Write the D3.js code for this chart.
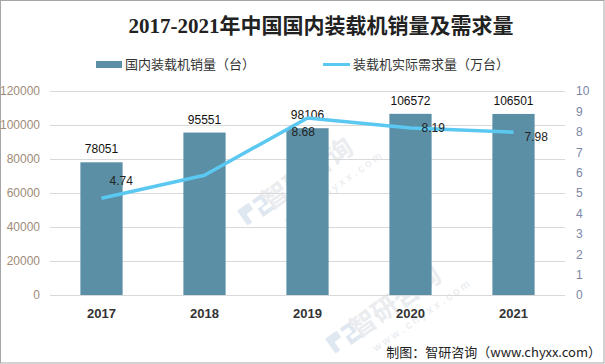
<!DOCTYPE html>
<html><head><meta charset="utf-8">
<script src="https://cdn.jsdelivr.net/npm/d3@7"></script>
<style>body{margin:0;background:#fff}svg{display:block}</style>
</head><body>
<svg id="c" width="605" height="364"></svg>
<script>
const years = ["2017","2018","2019","2020","2021"];
const sales = [78051, 95551, 98106, 106572, 106501];
const demand = [4.74, 5.87, 8.68, 8.19, 7.98];
const demandLabels = ["4.74", "", "8.68", "8.19", "7.98"];
const leftTicks = [0,20000,40000,60000,80000,100000,120000];
const rightTicks = [0,1,2,3,4,5,6,7,8,9,10];
const title = "2017-2021年中国国内装载机销量及需求量";
const legendNames = ["国内装载机销量（台）","装载机实际需求量（万台）"];
const source = "制图：智研咨询（www.chyxx.com）";
const watermarkText = "智研咨询";
const watermarkUrl = "w w w . c h y x x . c o m";

const svg = d3.select("#c");
const W=605,H=364;
svg.append("rect").attr("x",0.5).attr("y",0.5).attr("width",W-1.5).attr("height",H-1.5)
  .attr("fill","#fff").attr("stroke","#a6a6a6");

// faint watermarks (behind)
const wmPos = [[310,172],[398,300]];
const wm = svg.append("g").attr("pointer-events","none");
wmPos.forEach(p=>{
  const g = wm.append("g").attr("transform",`translate(${p[0]},${p[1]}) rotate(-35)`);
  g.append("path").attr("d","M-82,-10 h14 v8 h-8 v10 h-6 z M-64,-10 h12 v12 h-8 v4 h10 v4 h-14 v-10 h8 v-6 h-8 z")
    .attr("fill","#dfe7f1");
  g.append("text").attr("x",-55).attr("y",9).attr("font-family","'Noto Sans CJK SC',sans-serif")
    .attr("font-weight","bold").attr("font-size",26).attr("fill","#eaecef").text(watermarkText);
  g.append("text").attr("x",-48).attr("y",30).attr("font-family","'Liberation Sans',sans-serif")
    .attr("font-size",11).attr("fill","#e6e9ed").text(watermarkUrl);
});

const L=50,R=565,T=91,B=295;
const x = d3.scaleBand().domain(years).range([L,R]).paddingInner(0.59).paddingOuter(0.295);
const yL = d3.scaleLinear().domain([0,120000]).range([B,T]);
const yR = d3.scaleLinear().domain([0,10]).range([B,T]);

// title
svg.append("text").attr("x",321).attr("y",33).attr("text-anchor","middle")
  .attr("font-family","'Liberation Serif','Noto Sans CJK SC',serif").attr("font-weight","bold")
  .attr("font-size",21).attr("fill","#222").text(title);

// legend
const lg = svg.append("g").attr("font-family","'Noto Sans CJK SC',sans-serif").attr("font-size",13).attr("fill","#333");
lg.append("rect").attr("x",96).attr("y",61).attr("width",26).attr("height",7).attr("fill","#5b8fa6");
lg.append("text").attr("x",125).attr("y",69).text(legendNames[0]);
lg.append("line").attr("x1",323).attr("x2",350).attr("y1",64.5).attr("y2",64.5).attr("stroke","#5bc8f2").attr("stroke-width",3);
lg.append("text").attr("x",353).attr("y",69).text(legendNames[1]);

// grid
svg.append("g").selectAll("line").data(leftTicks).join("line")
  .attr("x1",L).attr("x2",R).attr("y1",d=>Math.round(yL(d))+0.5).attr("y2",d=>Math.round(yL(d))+0.5)
  .attr("stroke","#d9d9d9");

// left axis
const ax1 = svg.append("g").attr("transform",`translate(${L},0)`)
  .call(d3.axisLeft(yL).tickValues(leftTicks).tickSize(0).tickPadding(10).tickFormat(d3.format("d")));
ax1.select(".domain").remove();
ax1.selectAll("text").attr("font-family","'Liberation Sans',Arial,sans-serif").attr("font-size",12).attr("fill","#a08b78");

// right axis
const ax2 = svg.append("g").attr("transform",`translate(${R},0)`)
  .call(d3.axisRight(yR).tickValues(rightTicks).tickSize(0).tickPadding(11).tickFormat(d3.format("d")));
ax2.select(".domain").remove();
ax2.selectAll("text").attr("font-family","'Liberation Sans',Arial,sans-serif").attr("font-size",12).attr("fill","#7a86a6");

// x axis
const ax3 = svg.append("g").attr("transform",`translate(0,${B})`)
  .call(d3.axisBottom(x).tickSize(0).tickPadding(14));
ax3.select(".domain").remove();
ax3.selectAll("text").attr("font-family","'Liberation Sans',Arial,sans-serif").attr("font-size",13).attr("font-weight","bold").attr("fill","#333");

// bars
svg.append("g").selectAll("rect").data(sales).join("rect")
  .attr("x",(d,i)=>x(years[i])).attr("width",x.bandwidth())
  .attr("y",d=>yL(d)).attr("height",d=>B-yL(d)).attr("fill","#5b8fa6");
svg.append("g").selectAll("text").data(sales).join("text")
  .attr("x",(d,i)=>x(years[i])+x.bandwidth()/2).attr("y",d=>yL(d)-9)
  .attr("text-anchor","middle").attr("font-family","'Liberation Sans',Arial,sans-serif")
  .attr("font-size",12).attr("fill","#111").text(d=>d);

// line
const cx = i=>x(years[i])+x.bandwidth()/2;
svg.append("path").datum(demand)
  .attr("d",d3.line().x((d,i)=>cx(i)).y(d=>yR(d)))
  .attr("fill","none").attr("stroke","#5bc8f2").attr("stroke-width",3.5).attr("stroke-linejoin","round");

const lblOff = [[8,-17],[0,0],[-16,14],[11,0],[11,5]];
svg.append("g").selectAll("text").data(demand).join("text")
  .attr("x",(d,i)=>cx(i)+lblOff[i][0]).attr("y",(d,i)=>yR(d)+lblOff[i][1]+4)
  .attr("font-family","'Liberation Sans',Arial,sans-serif").attr("font-size",12).attr("fill","#222")
  .text((d,i)=>demandLabels[i]);

// source
svg.append("text").attr("x",601).attr("y",357).attr("text-anchor","end")
  .attr("font-family","'Noto Sans CJK SC',sans-serif").attr("font-size",13).attr("fill","#222").text(source);
</script>
</body></html>
